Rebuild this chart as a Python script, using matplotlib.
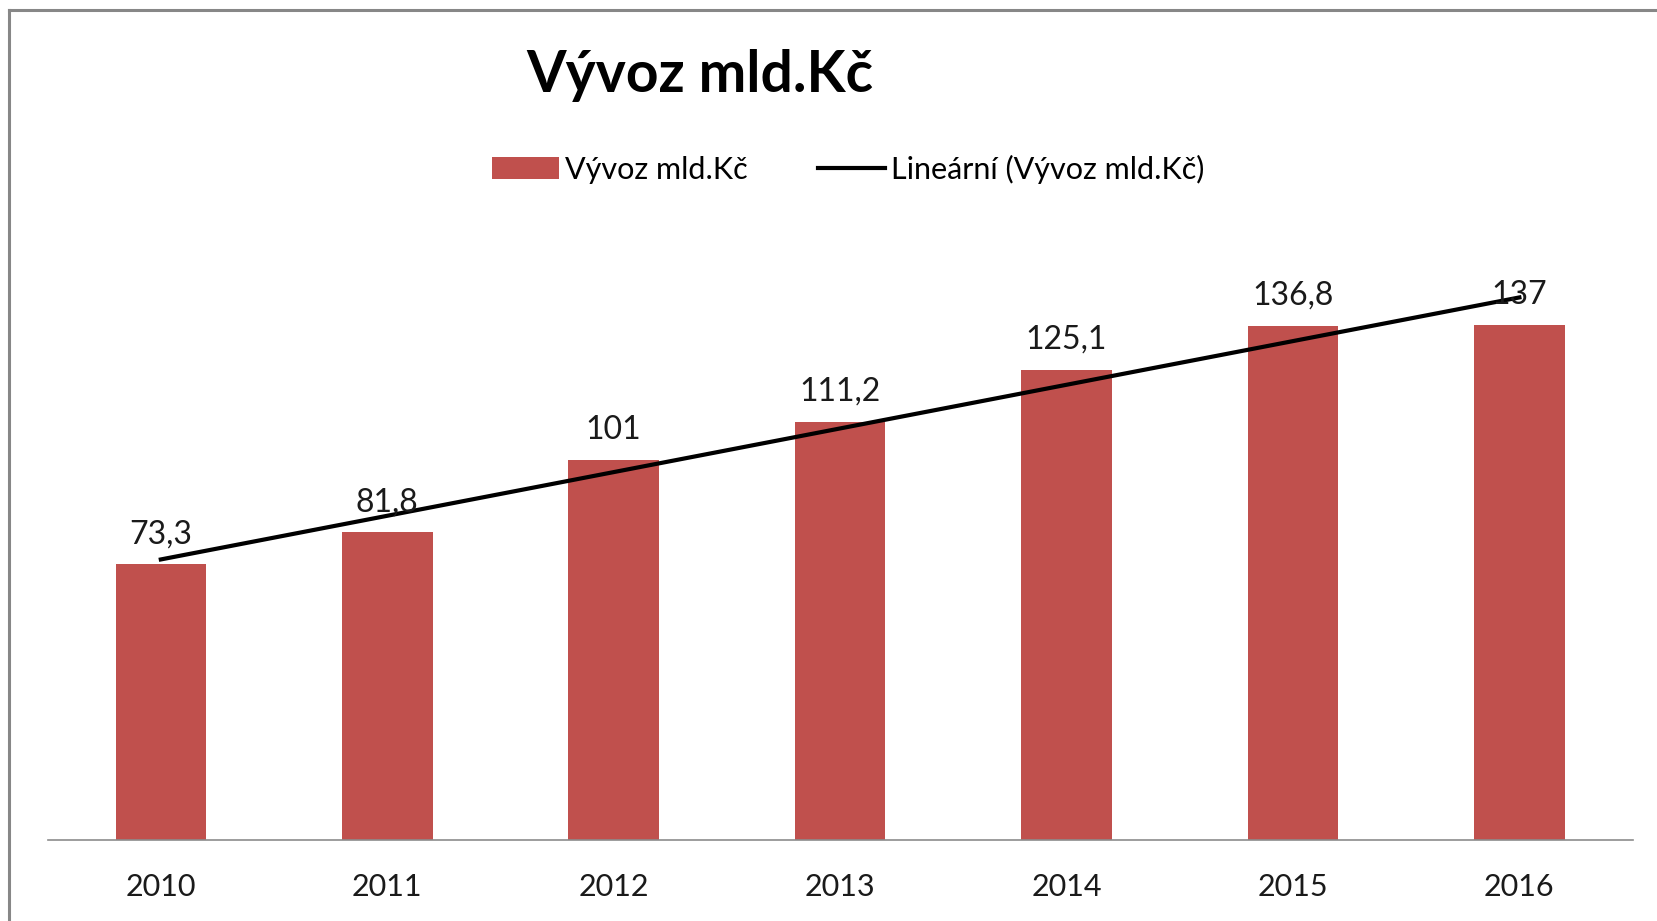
import numpy as np
import matplotlib.pyplot as plt
from matplotlib.patches import Patch
from matplotlib.lines import Line2D

plt.rcParams["font.family"] = ["Lato", "DejaVu Sans"]

years = ["2010", "2011", "2012", "2013", "2014", "2015", "2016"]
export_bn = [73.3, 81.8, 101, 111.2, 125.1, 136.8, 137]

bar_color = "#C0504D"
W, H = 1657, 921

fig = plt.figure(figsize=(W / 100, H / 100), dpi=100)
ax = fig.add_axes([47.6 / W, 81 / H, 1585 / W, 601.6 / H])

x = np.arange(len(years))
ax.bar(x, export_bn, width=0.4, color=bar_color, zorder=2)

# linear trend (Excel "Lineární")
k, q = np.polyfit(x, export_bn, 1)
ax.plot(x, k * x + q, color="black", linewidth=3, zorder=3)

for xi, v in zip(x, export_bn):
    ax.annotate(f"{v:g}".replace(".", ","), (xi, v), xytext=(0, 11),
                textcoords="offset points", ha="center", va="bottom",
                fontsize=23, color="#1a1a1a", zorder=4)

ax.set_xlim(-0.5, len(years) - 0.5)
ax.set_ylim(0, 160)
ax.set_xticks(x)
ax.set_xticklabels(years, fontsize=22, color="#1a1a1a")
ax.tick_params(axis="x", length=0, pad=24)
ax.set_yticks([])
for s in ["top", "right", "left"]:
    ax.spines[s].set_visible(False)
ax.spines["bottom"].set_color("#8c8c8c")
ax.spines["bottom"].set_linewidth(1.2)

fig.text(700 / W, 1 - 75 / H, "Vývoz mld.Kč", ha="center", va="center",
         fontsize=41, fontweight="bold", color="black")

handles = [Patch(facecolor=bar_color, edgecolor="none"),
           Line2D([0], [0], color="black", linewidth=3)]
fig.legend(handles, ["Vývoz mld.Kč", "Lineární (Vývoz mld.Kč)"],
           loc="center", bbox_to_anchor=(848 / W, 1 - 169 / H), ncol=2,
           frameon=False, fontsize=22, handlelength=2.2, handletextpad=0.2,
           columnspacing=2.3)

# chart frame (left and top edges visible)
fig.add_artist(Line2D([9 / W, 9 / W], [0, 1 - 10 / H], transform=fig.transFigure,
                      color="#878787", linewidth=2.2))
fig.add_artist(Line2D([9 / W, 1], [1 - 10 / H, 1 - 10 / H], transform=fig.transFigure,
                      color="#878787", linewidth=2.2))

fig.savefig("out.png", dpi=100)
